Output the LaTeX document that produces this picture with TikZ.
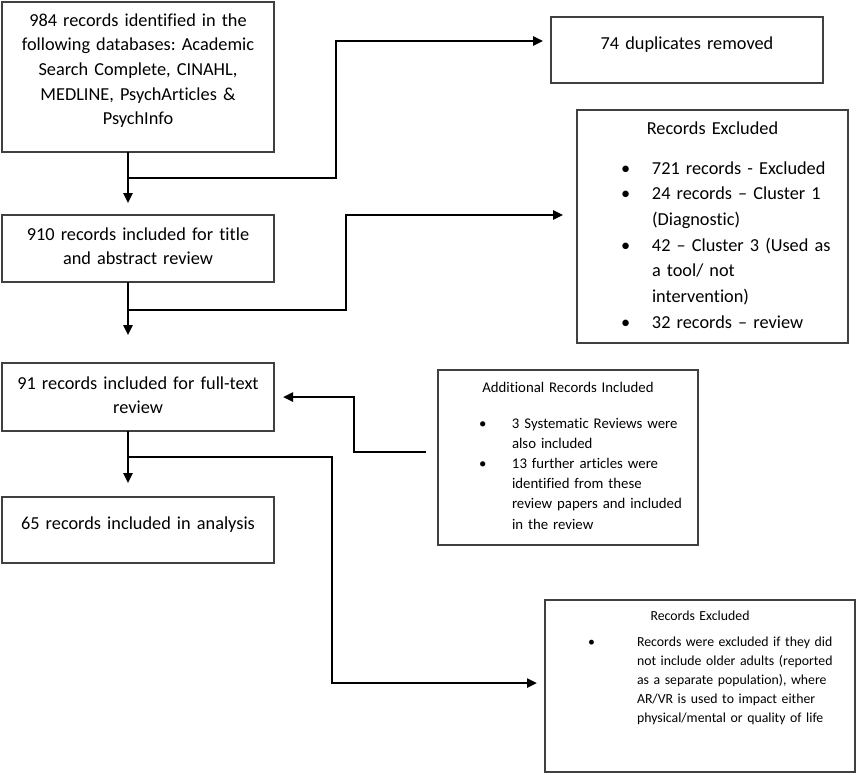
\documentclass[tikz,border=0pt]{standalone}
\usepackage{fontspec}
\setmainfont{Carlito}[Ligatures=NoCommon]
\usetikzlibrary{arrows.meta}
\frenchspacing
\begin{document}
\begin{tikzpicture}[x=1pt,y=-1pt,
  box/.style={draw=black!75, line width=1.4pt, anchor=north west, inner xsep=0pt, inner ysep=0pt, outer sep=0pt},
  arr/.style={line width=2.4pt, -{Triangle[length=10pt,width=9pt]}},
  big/.style={font=\fontsize{18.3}{24.7}\selectfont},
]
\useasboundingbox (0,0) rectangle (858,774);
% main column
\node[box, big, align=center, text width=272pt, text height=24pt, text depth=126pt] (A) at (2,2)
  {984 records identified in the\\following databases: Academic\\Search Complete, CINAHL,\\MEDLINE, PsychArticles \&\\PsychInfo};
\node[box, big, align=center, text width=272pt, text height=25pt, text depth=42pt] (B) at (2,215)
  {910 records included for title\\and abstract review};
\node[box, big, align=center, text width=272pt, text height=26pt, text depth=42pt] (C) at (2,363)
  {91 records included for full-text\\review};
\node[box, big, align=center, text width=272pt, text height=32pt, text depth=34pt] (D) at (2,497)
  {65 records included in analysis};
% right column
\node[box, big, align=center, text width=272pt, text height=32pt, text depth=34pt] (dup) at (551,17)
  {74 duplicates removed};
\node[box, font=\fontsize{18.3}{25.7}\selectfont, text width=271pt, text height=24pt, text depth=209pt] (re1) at (577,110)
  {\centering Records Excluded\par\vspace{14.3pt}
   \raggedright\leftskip=44pt
   \makebox[31pt][l]{•}721 records - Excluded\\
   \makebox[31pt][l]{•}24 records – Cluster 1\\
   \hspace*{31pt}(Diagnostic)\\
   \makebox[31pt][l]{•}42 – Cluster 3 (Used as\\
   \hspace*{31pt}a tool/ not\\
   \hspace*{31pt}intervention)\\
   \makebox[31pt][l]{•}32 records – review\par};
\node[box, font=\fontsize{14.8}{20.2}\selectfont, text width=260pt, text height=22pt, text depth=153pt] (add) at (438,370)
  {\centering Additional Records Included\par\vspace{15.8pt}
   \raggedright\leftskip=41pt
   \makebox[33pt][l]{•}3 Systematic Reviews were\\
   \hspace*{33pt}also included\\
   \makebox[33pt][l]{•}13 further articles were\\
   \hspace*{33pt}identified from these\\
   \hspace*{33pt}review papers and included\\
   \hspace*{33pt}in the review\par};
\node[box, font=\fontsize{13.8}{19}\selectfont, text width=310pt, text height=20.5pt, text depth=151.5pt] (br) at (545,600)
  {\centering Records Excluded\par\vspace{7pt}
   \raggedright\leftskip=43pt
   \makebox[49pt][l]{•}Records were excluded if they did\\
   \hspace*{49pt}not include older adults (reported\\
   \hspace*{49pt}as a separate population), where\\
   \hspace*{49pt}AR/VR is used to impact either\\
   \hspace*{49pt}physical/mental or quality of life\par};
% connectors
\coordinate (mx) at (128,0);
\coordinate (j1) at (128,178);
\coordinate (j2) at (128,310);
\coordinate (j3) at (128,457);
\draw[arr, shorten >=12pt] (A.south -| mx) -- (B.north -| mx);
\draw[arr, shorten >=28pt] (B.south -| mx) -- (C.north -| mx);
\draw[arr, shorten >=14pt] (C.south -| mx) -- (D.north -| mx);
\draw[arr, shorten >=8pt] (j1) -- (336,178) |- ([yshift=9pt]dup.west);
\draw[arr, shorten >=14pt] (j2) -- (346,310) |- ([yshift=11.5pt]re1.west);
\draw[arr, shorten <=12pt, shorten >=9pt] ([yshift=5.5pt]add.west) -- (354,452) |- (C.east);
\draw[arr, shorten >=8pt] (j3) -- (332,457) |- ([yshift=3pt]br.west);
\end{tikzpicture}
\end{document}
